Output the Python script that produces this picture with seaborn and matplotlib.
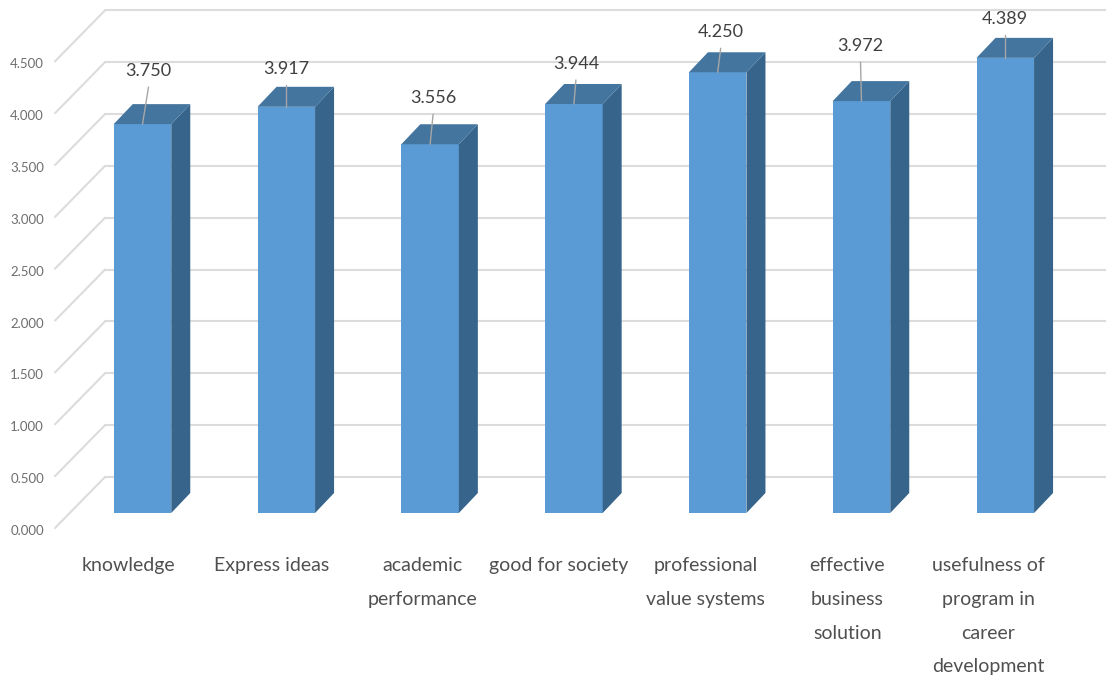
import matplotlib
matplotlib.use('Agg')
import matplotlib.pyplot as plt
from matplotlib.patches import Polygon
import pandas as pd
import seaborn as sns

categories = ['knowledge', 'Express ideas', 'academic\nperformance', 'good for society',
              'professional\nvalue systems', 'effective\nbusiness\nsolution',
              'usefulness of\nprogram in\ncareer\ndevelopment']
scores = [3.750, 3.917, 3.556, 3.944, 4.250, 3.972, 4.389]
y_ticks = [0, 0.5, 1, 1.5, 2, 2.5, 3, 3.5, 4, 4.5]

# layout, in pixels
W, H = 1106, 679
PX_PER_CAT = 143.8
PX_PER_UNIT = 103.7
FLOOR_Y = 513
BAR_DEPTH = (19, 20)
LEADER_ENDS = [(6, 37), (0, 22), (3, 30), (2, 24), (3, 24), (-1, 39), (0, 23)]
CAT_SHIFTS = [-14.5, -15, -8, -15, -12, -14, -17]

sns.set_theme(style='white')
plt.rcParams['font.family'] = ['Lato', 'DejaVu Sans']

fig = plt.figure(figsize=(W / 100, H / 100), dpi=100)
ax = fig.add_axes([0, 0, 1, 1])
df = pd.DataFrame({'item': categories, 'score': scores})
sns.barplot(data=df, x='item', y='score', color='#5b9bd5', width=0.4, saturation=1,
            linewidth=0, ax=ax, zorder=3)
ax.set_xlim(-142.5 / PX_PER_CAT, (W - 142.5) / PX_PER_CAT)
ax.set_ylim(-(H - FLOOR_Y) / PX_PER_UNIT, FLOOR_Y / PX_PER_UNIT)
ax.axis('off')

dx = 1 / PX_PER_CAT
dy = 1 / PX_PER_UNIT

# back wall grid and the left wall diagonals
wall_x0 = (55 - 142.5) * dx
wall_x1 = (105 - 142.5) * dx
for v in y_ticks:
    ax.plot([wall_x0, wall_x1], [v - 15 * dy, v + 36 * dy], color='#dcdcdc', lw=1.5, zorder=1)
    ax.plot([wall_x1, (W - 142.5) * dx], [v + 36 * dy] * 2, color='#dcdcdc', lw=1.5, zorder=1)
    ax.text(wall_x0 - 11 * dx, v - 17 * dy, f'{v:.3f}', ha='right', va='center_baseline',
            fontsize=9.5, color='#6e6e6e')

# side and top faces of every bar
ox, oy = BAR_DEPTH[0] * dx, BAR_DEPTH[1] * dy
for i, bar in enumerate(list(ax.patches)):
    x0, x1 = bar.get_x(), bar.get_x() + bar.get_width()
    top = bar.get_height()
    ax.add_patch(Polygon([(x1, 0), (x1 + ox, oy), (x1 + ox, top + oy), (x1, top)],
                         color='#36648b', lw=0, zorder=3))
    ax.add_patch(Polygon([(x0, top), (x0 + ox, top + oy), (x1 + ox, top + oy), (x1, top)],
                         color='#44759f', lw=0, zorder=3))
    lx, ly = i + LEADER_ENDS[i][0] * dx, top + LEADER_ENDS[i][1] * dy
    ax.plot([i, lx], [top, ly], color='#a6a6a6', lw=1, zorder=5)
    ax.text(lx, ly + 8 * dy, f'{scores[i]:.3f}', ha='center', va='bottom', fontsize=13,
            color='#404040', zorder=5)
    ax.text(i + CAT_SHIFTS[i] * dx, -44 * dy, categories[i], ha='center', va='top', fontsize=14,
            color='#505050', linespacing=2.2)

fig.savefig('out.png', dpi=100)
